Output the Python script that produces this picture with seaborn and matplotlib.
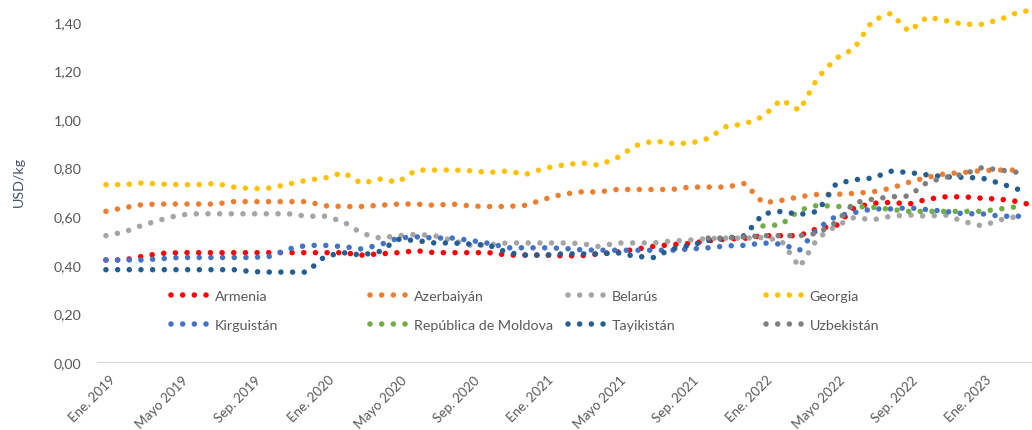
import numpy as np
import pandas as pd
import matplotlib
matplotlib.use("Agg")
import matplotlib.pyplot as plt
from matplotlib.lines import Line2D
from matplotlib.transforms import ScaledTranslation
import seaborn as sns

nan = np.nan

# Monthly prices (USD/kg), Ene. 2019 .. Abr. 2023
tick_labels = ["Ene. 2019", "Mayo 2019", "Sep. 2019", "Ene. 2020", "Mayo 2020",
               "Sep. 2020", "Ene. 2021", "Mayo 2021", "Sep. 2021", "Ene. 2022",
               "Mayo 2022", "Sep. 2022", "Ene. 2023"]
ytick_labels = ["0,00", "0,20", "0,40", "0,60", "0,80", "1,00", "1,20", "1,40"]

countries = ["Armenia", "Azerbaiyán", "Belarús", "Georgia",
             "Kirguistán", "República de Moldova", "Tayikistán", "Uzbekistán"]
colors = ["#FF0000", "#ED7D31", "#A5A5A5", "#FFC000",
          "#4472C4", "#70AD47", "#255E91", "#7F7F7F"]

armenia = [0.42, 0.42, 0.435, 0.447, 0.45, 0.45, 0.45, 0.45, 0.45, 0.45,
           0.45, 0.45, 0.45, 0.45, 0.44, 0.445, 0.45, 0.458, 0.45, 0.45,
           0.45, 0.45, 0.44, 0.44, 0.44, 0.437, 0.437, 0.445, 0.452, 0.464,
           0.476, 0.483, 0.488, 0.499, 0.506, 0.509, 0.52, 0.52, 0.52, 0.55,
           0.56, 0.635, 0.653, 0.657, 0.65, 0.67, 0.68, 0.68, 0.674, 0.67,
           0.66, 0.64]
azerbaiyan = [0.62, 0.635, 0.648, 0.65, 0.65, 0.65, 0.65, 0.66, 0.66, 0.66,
              0.66, 0.66, 0.643, 0.64, 0.64, 0.645, 0.65, 0.65, 0.645, 0.65,
              0.642, 0.64, 0.64, 0.645, 0.67, 0.69, 0.70, 0.70, 0.71, 0.71,
              0.71, 0.71, 0.72, 0.72, 0.72, 0.735, 0.655, 0.665, 0.68, 0.69,
              0.69, 0.694, 0.70, 0.715, 0.74, 0.76, 0.775, 0.78, 0.788, 0.79,
              0.79, nan]
belarus = [0.52, 0.535, 0.563, 0.585, 0.605, 0.61, 0.61, 0.61, 0.61, 0.61,
           0.61, 0.60, 0.60, 0.578, 0.53, 0.51, 0.52, 0.525, 0.52, 0.50,
           0.48, 0.483, 0.49, 0.49, 0.49, 0.49, 0.488, 0.475, 0.49, 0.49,
           0.49, 0.498, 0.502, 0.508, 0.51, 0.51, 0.512, 0.50, 0.39, 0.51,
           0.56, 0.595, 0.585, 0.60, 0.605, 0.60, 0.605, 0.578, 0.56, 0.585,
           0.60, nan]
georgia = [0.73, 0.73, 0.737, 0.732, 0.73, 0.73, 0.735, 0.72, 0.713, 0.716,
           0.732, 0.748, 0.757, 0.78, 0.735, 0.753, 0.74, 0.79, 0.79, 0.79,
           0.787, 0.78, 0.786, 0.772, 0.797, 0.81, 0.82, 0.81, 0.84, 0.89,
           0.91, 0.90, 0.90, 0.92, 0.97, 0.98, 1.01, 1.08, 1.035, 1.17,
           1.25, 1.29, 1.405, 1.435, 1.36, 1.42, 1.405, 1.39, 1.39, 1.41,
           1.44, 1.45]
kirguistan = [0.42, 0.42, 0.42, 0.425, 0.43, 0.43, 0.43, 0.43, 0.43, 0.435,
              0.465, 0.48, 0.48, 0.475, 0.465, 0.482, 0.51, 0.515, 0.51, 0.51,
              0.50, 0.488, 0.47, 0.47, 0.47, 0.468, 0.462, 0.46, 0.46, 0.46,
              0.46, 0.46, 0.465, 0.47, 0.478, 0.48, 0.49, 0.485, 0.46, 0.55,
              0.60, 0.615, 0.63, 0.63, 0.635, 0.627, 0.62, 0.61, 0.61, 0.60,
              0.60, nan]
moldova = [nan] * 36 + [0.56, 0.565, 0.625, 0.645, 0.64, 0.64, 0.637, 0.628,
                        0.62, 0.62, 0.62, 0.62, 0.62, 0.63, 0.64, nan]
tayikistan = [0.38, 0.38, 0.38, 0.38, 0.38, 0.38, 0.38, 0.38, 0.372, 0.37,
              0.37, 0.37, 0.435, 0.45, 0.44, 0.455, 0.505, 0.50, 0.49, 0.49,
              0.485, 0.48, 0.45, 0.44, 0.44, 0.445, 0.445, 0.445, 0.45, 0.435,
              0.43, 0.465, 0.48, 0.50, 0.51, 0.52, 0.61, 0.62, 0.607, 0.62,
              0.733, 0.75, 0.757, 0.785, 0.78, 0.77, 0.762, 0.76, 0.757, 0.735,
              0.71, nan]
uzbekistan = [nan] * 33 + [0.51, 0.51, 0.515, 0.52, 0.52, 0.52, 0.53, 0.575,
                           0.655, 0.67, 0.68, 0.683, 0.74, 0.76, 0.773, 0.80,
                           0.79, 0.78, nan]

series = [armenia, azerbaiyan, belarus, georgia,
          kirguistan, moldova, tayikistan, uzbekistan]

# long-form table for seaborn
mes = np.arange(len(armenia))
df = pd.concat([pd.DataFrame({"mes": mes, "precio": vals, "pais": name})
                for name, vals in zip(countries, series)], ignore_index=True)
df = df.dropna()
palette = dict(zip(countries, colors))

sns.set_theme(style="white")
plt.rcParams["font.family"] = ["Lato", "DejaVu Sans"]

W, H = 1032, 431
fig = plt.figure(figsize=(W / 100, H / 100), dpi=100)
ax = fig.add_axes([97 / W, 68 / H, (W - 97) / W, 363 / H])

# round dots like Excel's "round dot" dash type
lw = 4.0
dot_style = (0, (0.001, 2.1))
sns.lineplot(data=df, x="mes", y="precio", hue="pais", hue_order=countries,
             palette=palette, estimator=None, errorbar=None, sort=True,
             linewidth=lw, linestyle=dot_style, dash_capstyle="round",
             legend=False, ax=ax)

ax.set_xlim(-0.49, 50.74)
ax.set_ylim(0, 1.494)
ax.set_yticks(np.arange(0, 1.41, 0.2))
ax.set_yticklabels(ytick_labels)
ax.set_xticks(np.arange(0, 49, 4))
ax.set_xticklabels(tick_labels, rotation=45, ha="right", rotation_mode="anchor")
ax.tick_params(axis="y", length=0, pad=11, labelsize=10.3, labelcolor="#595959")
ax.tick_params(axis="x", length=0, pad=8, labelsize=9.6, labelcolor="#595959")
# nudge the rotated labels a little right, as in the original
shift = ScaledTranslation(3 / 100, 0, fig.dpi_scale_trans)
for lab in ax.get_xticklabels():
    lab.set_transform(lab.get_transform() + shift)

ax.set_xlabel("")
ax.set_ylabel("USD/kg", fontsize=10.3, color="#44546A")
ax.yaxis.set_label_coords(-0.077, 0.5)

for side in ["left", "top", "right"]:
    ax.spines[side].set_visible(False)
ax.spines["bottom"].set_color("#D9D9D9")
ax.spines["bottom"].set_linewidth(0.9)
ax.grid(False)

# legend: 4 columns, 2 rows, equal column spacing like the original
col_x = [171, 370, 568, 766]
legends = []
for k, x in enumerate(col_x):
    idx = [k, k + 4]
    handles = [Line2D([], [], color=colors[i], linewidth=lw, linestyle=dot_style,
                      dash_capstyle="round") for i in idx]
    leg = ax.legend(handles, [countries[i] for i in idx], loc="upper left",
                    bbox_to_anchor=(x / W, 1 - 291 / H), bbox_transform=fig.transFigure,
                    frameon=False, fontsize=10.3, handlelength=2.6, handletextpad=0.45,
                    labelspacing=1.2, borderpad=0, borderaxespad=0,
                    labelcolor="#595959")
    legends.append(leg)
for leg in legends[:-1]:
    ax.add_artist(leg)

fig.savefig("out.png", dpi=100)
